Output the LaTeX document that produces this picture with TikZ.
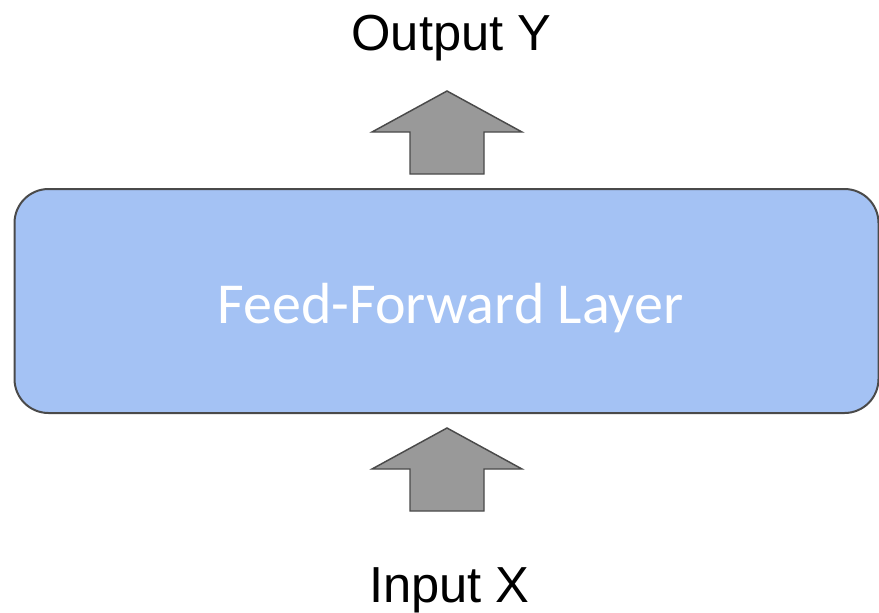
\documentclass[tikz,border=0pt]{standalone}
\usepackage{fontspec}
\setmainfont{Liberation Sans}
\newfontfamily\layerfont{Carlito}
\definecolor{layerblue}{HTML}{A4C2F4}
\definecolor{edgegray}{HTML}{4A4A4A}
\definecolor{arrowgray}{HTML}{999999}
\begin{document}
\begin{tikzpicture}[x=0.75pt,y=-0.75pt,
  layer/.style={draw=edgegray, line width=1.5pt, fill=layerblue, rounded corners=25.5pt,
    minimum width=648pt, minimum height=168pt, inner sep=0pt},
  layertext/.style={anchor=base, inner sep=0pt, text=white,
    font=\layerfont\fontsize{43.5pt}{50pt}\selectfont},
  caption/.style={anchor=base, inner sep=0pt, font=\fontsize{38pt}{44pt}\selectfont},
  blockarrow/.style={draw=edgegray, line width=1.1pt, fill=arrowgray, line join=miter}]
\useasboundingbox (0,0) rectangle (879,612);
\node[layer] (ffn) at (446.5,301) {};
\node[layertext] (ffnlabel) at (450.5,323) {Feed-Forward Layer};
\node[caption] (out) at (451.5,50) {Output Y};
\node[caption] (in) at (449.5,602) {Input X};
% upward block arrows: tip, head base and shaft bottom
\coordinate (up1) at (447,91);
\coordinate (up2) at (447,428);
\foreach \t in {up1,up2}{
  \draw[blockarrow] (\t) -- ++(75,41) -- ++(-38,0) -- ++(0,42) -- ++(-74,0)
    -- ++(0,-42) -- ++(-38,0) -- cycle;
}
\end{tikzpicture}
\end{document}
